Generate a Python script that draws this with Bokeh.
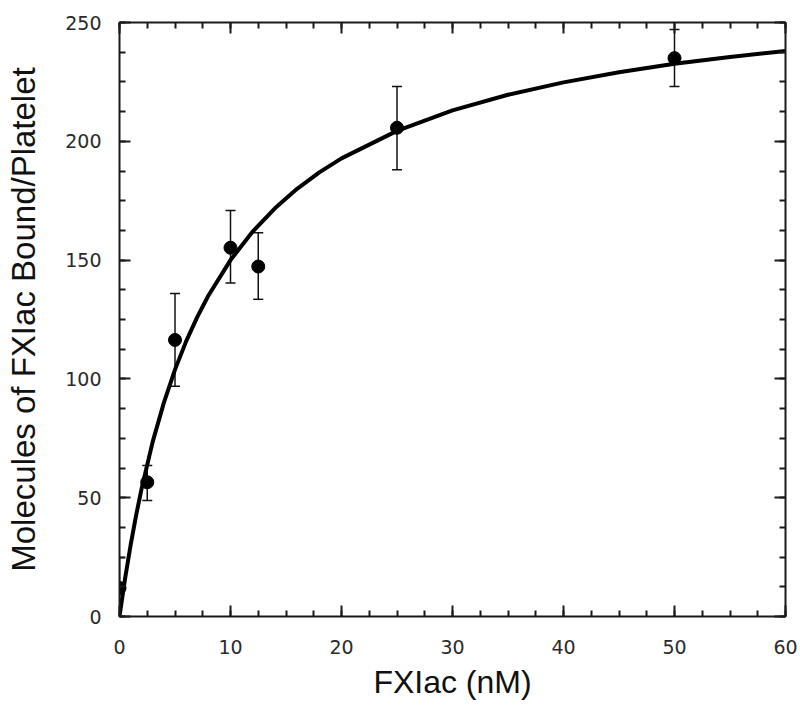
from bokeh.plotting import figure
from bokeh.models import (ColumnDataSource, Range1d, LinearAxis, FixedTicker,
                          Whisker, TeeHead)
from bokeh.embed import file_html
from bokeh.resources import INLINE

# ---- data ----
conc = [0, 2.5, 5, 10, 12.5, 25, 50]
bound = [12, 56.5, 116.4, 155.2, 147.3, 205.7, 235.0]
err_low = [0, 48.8, 96.9, 140.4, 133.5, 188.0, 223.1]
err_high = [24.8, 63.5, 135.9, 170.9, 161.5, 223.1, 247.1]

fit_x = [0, 0.5, 1, 1.5, 2, 3, 4, 5, 6, 7, 8, 10, 12, 14, 16, 18, 20,
         25, 30, 35, 40, 45, 50, 55, 60]
fit_y = [0, 15.9, 30.0, 42.7, 54.0, 73.7, 90.0, 103.9, 115.8, 126.0, 135.0,
         150.0, 162.0, 171.8, 180.0, 186.9, 192.8, 204.4, 213.0, 219.6,
         224.8, 229.1, 232.6, 235.5, 238.0]

x_major = [0, 10, 20, 30, 40, 50, 60]
x_minor = [i * 2.5 for i in range(25)]
y_major = [0, 50, 100, 150, 200, 250]
y_minor = [i * 12.5 for i in range(21)]

x_title = "FXIac (nM)"
y_title = "Molecules of FXIac Bound/Platelet"

AX = "#1a1a1a"
TXT = "#2a2a2a"

p = figure(width=800, height=707, output_backend="svg", toolbar_location=None,
           x_range=Range1d(0, 60), y_range=Range1d(0, 250),
           x_axis_location=None, y_axis_location=None,
           min_border_left=119, min_border_top=22, min_border_right=15,
           min_border_bottom=91)
p.outline_line_color = None
p.xgrid.visible = False
p.ygrid.visible = False
p.background_fill_color = "white"
p.border_fill_color = "white"


def style(ax, ticks, minor, labels=True):
    ax.ticker = FixedTicker(ticks=ticks, minor_ticks=minor)
    ax.axis_line_color = AX
    ax.axis_line_width = 2
    ax.major_tick_line_color = AX
    ax.minor_tick_line_color = AX
    ax.major_tick_line_width = 2
    ax.minor_tick_line_width = 2
    ax.major_tick_in = 11
    ax.major_tick_out = 0
    ax.minor_tick_in = 6
    ax.minor_tick_out = 0
    ax.major_label_text_font = "DejaVu Sans"
    ax.major_label_text_font_size = "19px"
    ax.major_label_text_color = TXT
    if not labels:
        ax.major_label_overrides = {t: "" for t in ticks}
        ax.major_label_standoff = 0


xb = LinearAxis(axis_label=x_title)
style(xb, x_major, x_minor)
xb.major_label_standoff = 23
xb.axis_label_text_font = "Liberation Sans"
xb.axis_label_text_font_size = "32px"
xb.axis_label_text_font_style = "normal"
xb.axis_label_text_color = "#111111"
xb.axis_label_standoff = 7
p.add_layout(xb, "below")

yl = LinearAxis(axis_label=y_title)
style(yl, y_major, y_minor)
yl.major_label_standoff = 18
yl.axis_label_text_font = "Liberation Sans"
yl.axis_label_text_font_size = "33px"
yl.axis_label_text_font_style = "normal"
yl.axis_label_text_color = "#111111"
yl.axis_label_standoff = 20
p.add_layout(yl, "left")

xt = LinearAxis()
style(xt, x_major, x_minor, labels=False)
p.add_layout(xt, "above")

yr = LinearAxis()
style(yr, y_major, y_minor, labels=False)
p.add_layout(yr, "right")

# fitted curve
p.line(fit_x, fit_y, line_color="black", line_width=4)

# data with error bars
src = ColumnDataSource(dict(x=conc, y=bound, lo=err_low, hi=err_high))
w = Whisker(source=src, base="x", lower="lo", upper="hi",
            line_color="#111111", line_width=1.5,
            upper_head=TeeHead(size=10, line_color="#111111", line_width=1.5),
            lower_head=TeeHead(size=10, line_color="#111111", line_width=1.5))
p.add_layout(w)
p.scatter("x", "y", source=src, size=13, fill_color="black", line_color="black")

open("out.html", "w").write(file_html(p, INLINE))
